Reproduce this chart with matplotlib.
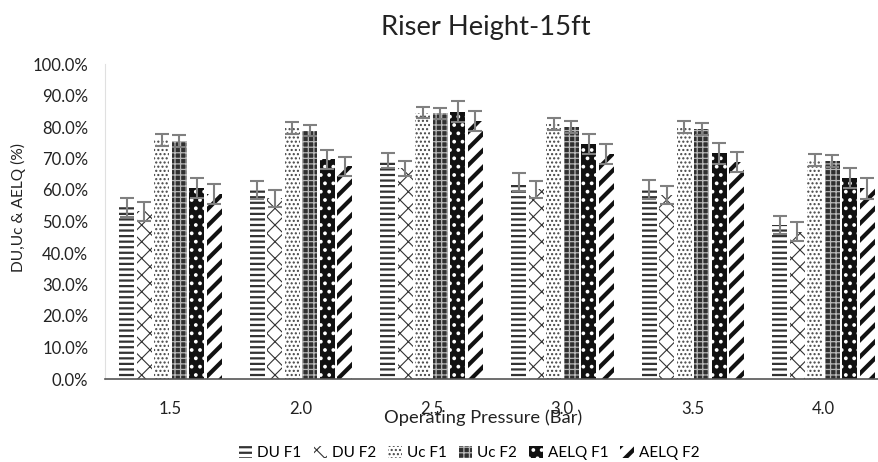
import numpy as np
from matplotlib import pyplot as plt
from matplotlib.ticker import PercentFormatter

plt.rcParams['font.family'] = ['Lato', 'DejaVu Sans']

pressures = ["1.5", "2.0", "2.5", "3.0", "3.5", "4.0"]
series = ["DU F1", "DU F2", "Uc F1", "Uc F2", "AELQ F1", "AELQ F2"]

# values (fractions)
du_f1 = [0.545, 0.600, 0.695, 0.625, 0.602, 0.489]
du_f2 = [0.533, 0.574, 0.669, 0.602, 0.584, 0.467]
uc_f1 = [0.758, 0.797, 0.845, 0.809, 0.799, 0.695]
uc_f2 = [0.757, 0.788, 0.843, 0.801, 0.793, 0.693]
aelq_f1 = [0.606, 0.698, 0.849, 0.745, 0.716, 0.637]
aelq_f2 = [0.588, 0.675, 0.819, 0.714, 0.689, 0.605]

du_err = [0.030, 0.027, 0.024, 0.028, 0.030, 0.030]
uc_err = [0.019, 0.018, 0.017, 0.019, 0.019, 0.019]
aelq_err = [0.032, 0.030, 0.032, 0.032, 0.032, 0.032]

values = [du_f1, du_f2, uc_f1, uc_f2, aelq_f1, aelq_f2]
errors = [du_err, du_err, uc_err, uc_err, aelq_err, aelq_err]

# (facecolor, hatch colour, hatch, hatch linewidth)
styles = [
    ("white", "#333333", "---", 1.6),
    ("white", "#333333", "xx", 0.8),
    ("white", "#444444", "....", 1.0),
    ("#303030", "#b8b8b8", "+++", 0.9),
    ("#111111", "white", "..", 1.5),
    ("white", "#111111", "//", 3.0),
]

fig = plt.figure(figsize=(8.79, 4.62), dpi=100)
ax = fig.add_axes([105/879, 1-379/462, 784/879, (379-64)/462])

x = np.arange(len(pressures))
pitch = 0.134
width = 0.115
for j, (name, vals, errs) in enumerate(zip(series, values, errors)):
    fc, hc, hatch, hlw = styles[j]
    plt.rcParams['hatch.linewidth'] = hlw
    bars = ax.bar(x + (j - 2.5) * pitch, vals, width, color=fc, edgecolor=hc,
                  hatch=hatch, linewidth=0, label=name)
    for b in bars:
        if hasattr(b, "set_hatch_linewidth"):
            b.set_hatch_linewidth(hlw)
    ax.errorbar(x + (j - 2.5) * pitch, vals, yerr=errs, fmt="none",
                ecolor="#808080", elinewidth=1.5, capsize=5, capthick=1.5)

ax.set_xlim(-0.5, 5.5)
ax.set_ylim(0, 1.0)
ax.set_yticks(np.arange(0, 1.01, 0.1))
ax.yaxis.set_major_formatter(PercentFormatter(1.0, decimals=1))
ax.set_xticks(x)
ax.set_xticklabels(pressures)
ax.tick_params(axis="both", length=0, labelsize=12, colors="#222222")
ax.tick_params(axis="y", pad=12)
ax.tick_params(axis="x", pad=16)
for s in ["top", "right"]:
    ax.spines[s].set_visible(False)
ax.spines["left"].set_color("#e0e0e0")
ax.spines["bottom"].set_color("#555555")
ax.spines["bottom"].set_linewidth(1.2)

fig.text(486/879, 1-28/462, "Riser Height-15ft", ha="center", va="center",
         fontsize=19.7, color="#222222")
fig.text(483/879, 1-418/462, "Operating Pressure (Bar)", ha="center",
         va="center", fontsize=13.2, color="#222222")
fig.text(18/879, 1-208/462, "DU,Uc & AELQ (%)", ha="center", va="center",
         rotation=90, fontsize=11.2, color="#222222")

leg = fig.legend(loc="center", bbox_to_anchor=(469/879, 1-453/462), ncol=6,
                 frameon=False, fontsize=11, handlelength=0.9, handleheight=0.9,
                 handletextpad=0.3, columnspacing=0.8)
for p, st in zip(leg.get_patches(), styles):
    if hasattr(p, "set_hatch_linewidth"):
        p.set_hatch_linewidth(st[3])

fig.savefig("out.png", dpi=100)
